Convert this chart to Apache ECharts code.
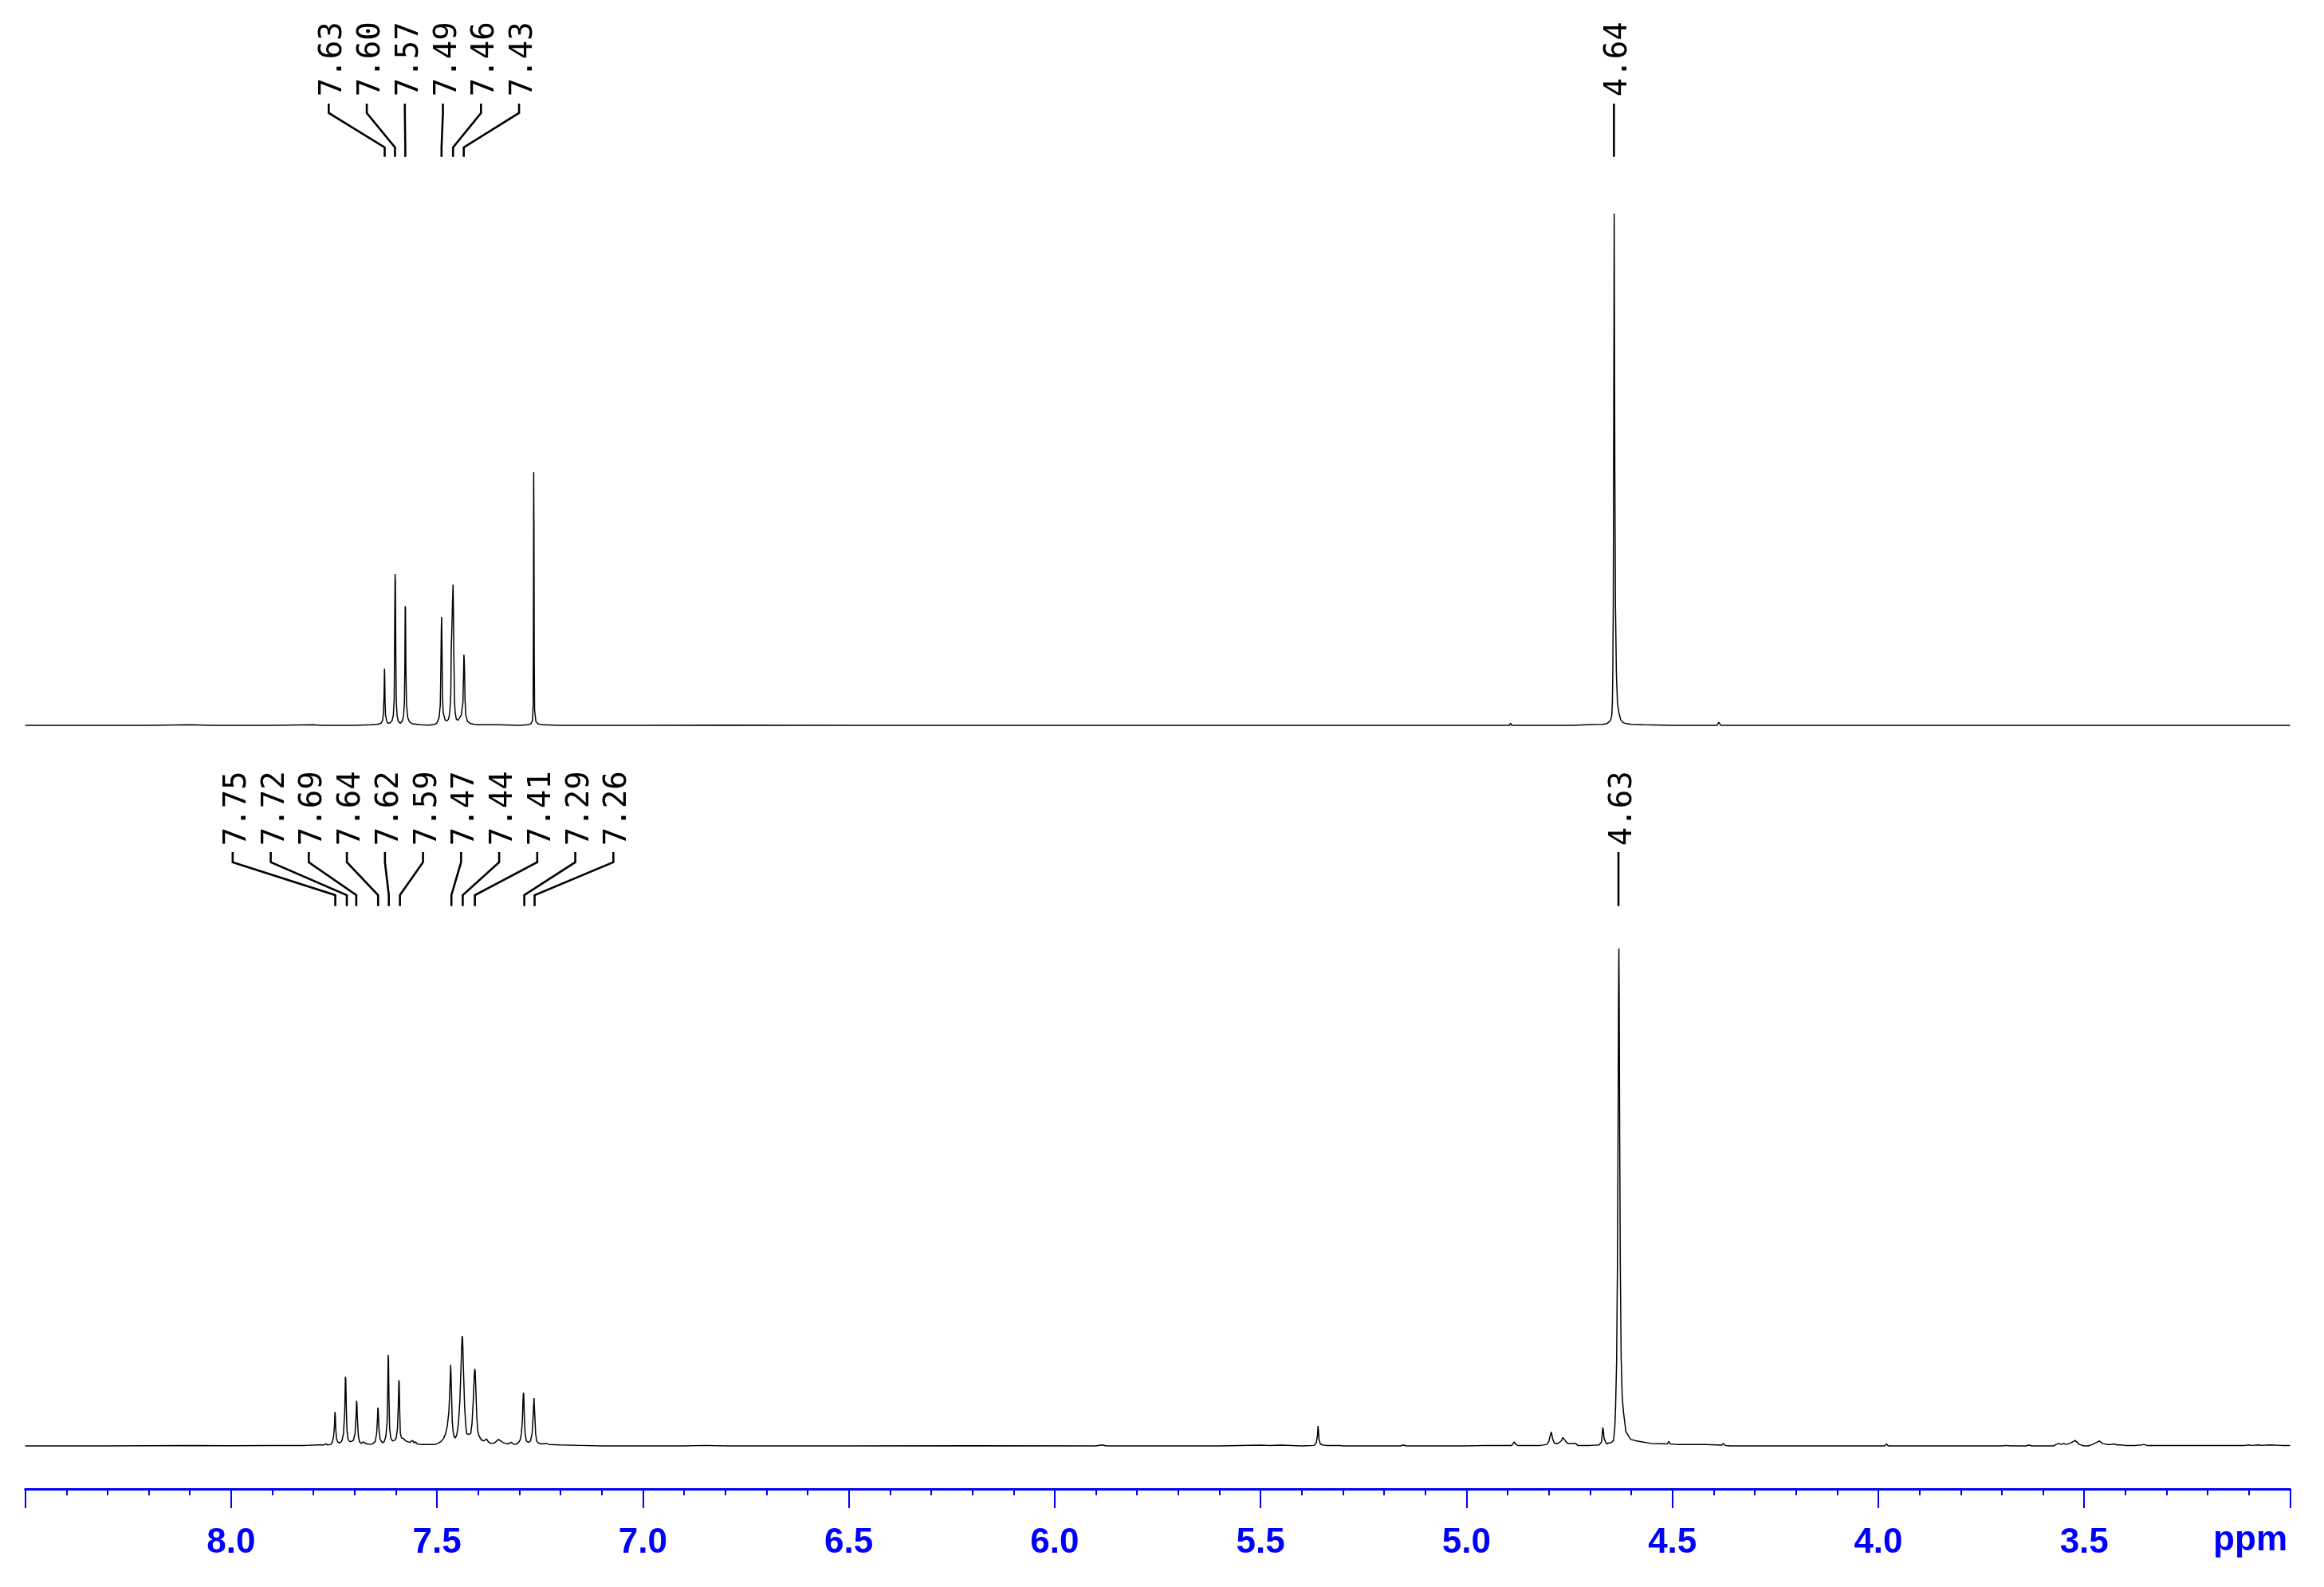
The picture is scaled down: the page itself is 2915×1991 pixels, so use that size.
<!DOCTYPE html>
<html>
<head>
<meta charset="utf-8">
<title>1H NMR spectra</title>
<script src="https://cdn.jsdelivr.net/npm/echarts@6.0.0/dist/echarts.min.js"></script>
<style>
  html, body { margin: 0; padding: 0; background: #fff; }
  #chart { width: 2915px; height: 1991px; }
</style>
</head>
<body>
<div id="chart"></div>
<script>
const ppmTicks = [8.0, 7.5, 7.0, 6.5, 6.0, 5.5, 5.0, 4.5, 4.0, 3.5]

const topPeakPpm = [7.627, 7.602, 7.577, 7.489, 7.461, 7.435]
const topPeakText = ['7.63', '7.60', '7.57', '7.49', '7.46', '7.43']
const topMainPpm = [4.642]
const topMainText = ['4.64']

const bottomPeakPpm = [7.747, 7.719, 7.696, 7.643, 7.617, 7.590, 7.465, 7.4375, 7.408, 7.288, 7.263]
const bottomPeakText = ['7.75', '7.72', '7.69', '7.64', '7.62', '7.59', '7.47', '7.44', '7.41', '7.29', '7.26']
const bottomMainPpm = [4.631]
const bottomMainText = ['4.63']

// [ppm, intensity], intensity relative to the tallest peak of each trace
const topSpectrum = [
  [8.50, 0], [8.20, 0], [8.10, 0.1], [8.05, 0], [7.90, 0], [7.80, 0.1], [7.78, 0], [7.70, 0], [7.66, 0.1], [7.645, 0.2],
  [7.636, 0.4], [7.632, 1.0], [7.630, 2.5], [7.6285, 6], [7.6275, 11.1], [7.627, 10.0], [7.6262, 5], [7.625, 2], [7.622, 0.8], [7.619, 0.4],
  [7.614, 0.5], [7.609, 0.9], [7.606, 2], [7.604, 5], [7.603, 15], [7.6018, 29.6], [7.6010, 28], [7.600, 14], [7.599, 5], [7.597, 2], [7.594, 0.8], [7.589, 0.4],
  [7.584, 0.9], [7.581, 2], [7.579, 5], [7.578, 12], [7.5772, 23.3], [7.5765, 22.8], [7.5755, 11], [7.574, 4], [7.571, 1.5], [7.567, 0.7], [7.560, 0.3], [7.54, 0.1], [7.52, 0.05], [7.505, 0.2],
  [7.500, 0.5], [7.495, 1.5], [7.492, 4], [7.4905, 12], [7.4895, 19], [7.4886, 21.2], [7.4878, 15], [7.4868, 6], [7.485, 2.5], [7.480, 1.0], [7.476, 0.9], [7.472, 1.2], [7.469, 2.5], [7.4665, 6],
  [7.4655, 14.5], [7.4635, 20], [7.4620, 25], [7.4610, 27.5], [7.4600, 22], [7.4590, 13], [7.4575, 5], [7.456, 2.5], [7.453, 1.2], [7.449, 1.0],
  [7.441, 2.0], [7.437, 4.5], [7.4355, 10], [7.4347, 13.8], [7.4340, 13.0], [7.4330, 10.5], [7.432, 5], [7.430, 2], [7.426, 0.8], [7.420, 0.4], [7.41, 0.2], [7.40, 0.1],
  [7.35, 0.1], [7.30, 0], [7.28, 0.1],
  [7.272, 0.3], [7.268, 1.0], [7.2665, 4], [7.2658, 20], [7.2652, 49.5], [7.2645, 38], [7.2638, 12], [7.263, 3], [7.260, 0.8], [7.255, 0.3], [7.245, 0.1],
  [7.20, 0], [7.00, 0], [6.80, 0.05], [6.50, 0], [6.00, 0], [5.50, 0], [5.20, 0], [4.92, 0],
  [4.896, 0], [4.893, 0.4], [4.890, 0],
  [4.74, 0], [4.70, 0.15], [4.67, 0.2], [4.66, 0.3], [4.655, 0.6], [4.650, 1.0],
  [4.6472, 2], [4.6458, 4.5], [4.6448, 10], [4.6436, 24], [4.6428, 50], [4.6419, 80], [4.6414, 100], [4.6407, 78], [4.6398, 50], [4.6384, 24], [4.6360, 10], [4.6335, 4.5], [4.630, 2.5], [4.626, 1.2], [4.621, 0.6], [4.615, 0.4], [4.60, 0.2], [4.57, 0.1], [4.50, 0],
  [4.392, 0], [4.387, 0.6], [4.383, 0],
  [4.00, 0], [3.50, 0], [3.00, 0],
]

const bottomSpectrum = [
  [8.50, 0], [8.30, 0], [8.10, 0.1], [8.00, 0.05], [7.90, 0.1], [7.82, 0.1], [7.79, 0.2], [7.775, 0.2], [7.770, 0.4], [7.765, 0.2], [7.758, 0.3], [7.754, 0.8],
  [7.751, 2], [7.749, 4], [7.7478, 6.8], [7.7470, 6.3], [7.746, 3.5], [7.744, 1.5], [7.741, 0.8], [7.736, 0.6],
  [7.731, 1.0], [7.727, 2.5], [7.724, 7], [7.7225, 13.9], [7.7215, 13.5], [7.720, 7], [7.7185, 3], [7.716, 1.3], [7.712, 0.9], [7.708, 0.9],
  [7.703, 1.1], [7.699, 2.5], [7.6965, 6], [7.6952, 9.1], [7.6945, 8.5], [7.693, 5], [7.691, 2], [7.688, 0.8], [7.684, 0.5], [7.680, 0.8], [7.677, 0.5], [7.670, 0.4], [7.66, 0.3], [7.655, 0.5],
  [7.650, 0.9], [7.6465, 2.5], [7.6445, 5.5], [7.6435, 7.7], [7.6428, 7.2], [7.641, 3.5], [7.638, 1.3], [7.632, 0.6],
  [7.628, 0.9], [7.624, 2], [7.621, 5], [7.6195, 12], [7.6185, 18.3], [7.6178, 17.5], [7.6165, 9], [7.615, 3.5], [7.612, 1.5], [7.608, 1.0], [7.603, 1.1],
  [7.599, 1.6], [7.596, 3.5], [7.594, 8], [7.5925, 13.2], [7.5918, 12.8], [7.5905, 7], [7.589, 2.5], [7.586, 1.6], [7.582, 1.5], [7.580, 1.7], [7.577, 1.1], [7.573, 0.9], [7.570, 1.2], [7.566, 0.7], [7.563, 0.6], [7.559, 1.1], [7.556, 0.6], [7.552, 0.8], [7.548, 0.4], [7.54, 0.3], [7.52, 0.3], [7.505, 0.3],
  [7.498, 0.5], [7.490, 0.9], [7.484, 1.5], [7.479, 2.5], [7.475, 4], [7.471, 7], [7.4685, 12], [7.4668, 16.3], [7.4660, 16.0], [7.4648, 11], [7.463, 5], [7.461, 3], [7.459, 2.0], [7.456, 1.6],
  [7.452, 2.2], [7.448, 4.5], [7.4445, 9], [7.442, 15], [7.440, 20], [7.4388, 22.1], [7.4378, 21.5], [7.436, 16], [7.433, 8], [7.430, 4], [7.428, 2.5], [7.424, 2.3], [7.421, 2.0],
  [7.418, 2.5], [7.415, 4.5], [7.412, 9], [7.4095, 14], [7.4083, 15.5], [7.4073, 15.0], [7.4055, 11], [7.4035, 6], [7.401, 3], [7.398, 2], [7.395, 1.7],
  [7.392, 1.2], [7.386, 1.0], [7.380, 1.4], [7.376, 0.9], [7.370, 0.5], [7.360, 0.6], [7.351, 1.3], [7.345, 1.0], [7.341, 0.75], [7.334, 0.5], [7.328, 0.4], [7.320, 0.75], [7.315, 0.4], [7.309, 0.3], [7.303, 0.6],
  [7.298, 1.2], [7.295, 2.5], [7.2925, 5.5], [7.2910, 9.5], [7.2902, 10.7], [7.2893, 10.3], [7.288, 6], [7.286, 2.5], [7.283, 1.0], [7.278, 0.7],
  [7.273, 1.0], [7.269, 2.5], [7.2665, 6], [7.2645, 9.6], [7.2635, 9.3], [7.2625, 6], [7.2605, 2.5], [7.258, 1.0], [7.254, 0.6], [7.247, 0.4], [7.234, 0.5], [7.228, 0.3], [7.20, 0.2], [7.15, 0.1],
  [7.10, 0], [6.90, 0], [6.85, 0.1], [6.80, 0], [6.50, 0], [6.20, 0.05], [5.90, 0], [5.885, 0.2], [5.875, 0], [5.60, 0], [5.50, 0.15], [5.48, 0.1], [5.45, 0.15], [5.40, 0],
  [5.370, 0.1], [5.365, 0.6], [5.362, 2], [5.3605, 4.0], [5.3595, 3.0], [5.358, 1.2], [5.355, 0.4], [5.350, 0.2], [5.340, 0.1], [5.316, 0.1], [5.313, 0.2], [5.309, 0.1], [5.30, 0],
  [5.16, 0], [5.153, 0.2], [5.147, 0], [5.00, 0], [4.95, 0.1], [4.890, 0.1], [4.884, 0.8], [4.880, 0.3], [4.876, 0.1], [4.82, 0.1],
  [4.805, 0.3], [4.800, 0.9], [4.797, 2.0], [4.794, 2.8], [4.791, 1.5], [4.787, 0.6], [4.781, 0.45], [4.776, 0.6], [4.770, 1.0], [4.766, 1.7], [4.763, 1.6], [4.759, 0.9], [4.754, 0.5], [4.745, 0.5], [4.735, 0.5], [4.730, 0.1], [4.700, 0.1],
  [4.678, 0.2], [4.672, 0.8], [4.669, 3.7], [4.6675, 3.0], [4.666, 1.5], [4.664, 1.2], [4.660, 0.4], [4.655, 0.6], [4.649, 0.64], [4.643, 1.1],
  [4.640, 3.5], [4.638, 7.8], [4.6355, 17], [4.6335, 36], [4.632, 62], [4.6308, 90], [4.6300, 100], [4.6292, 90], [4.628, 62], [4.6265, 36], [4.6245, 18], [4.622, 10], [4.619, 7], [4.617, 5.6],
  [4.613, 2.9], [4.606, 1.9], [4.601, 1.3], [4.587, 1.0], [4.573, 0.8], [4.552, 0.5], [4.512, 0.4], [4.509, 0.9], [4.505, 0.4], [4.490, 0.3], [4.457, 0.3], [4.42, 0.3],
  [4.380, 0.15], [4.376, 0.5], [4.372, 0.1], [4.36, 0], [4.10, 0], [3.985, 0], [3.980, 0.4], [3.976, 0], [3.70, 0], [3.690, 0.1], [3.68, 0], [3.64, 0], [3.634, 0.2], [3.628, 0],
  [3.575, 0], [3.568, 0.3], [3.562, 0.5], [3.556, 0.3], [3.550, 0.5], [3.545, 0.3], [3.535, 0.5], [3.522, 1.1], [3.512, 0.3], [3.500, 0], [3.490, 0],
  [3.480, 0.3], [3.470, 0.7], [3.463, 1.0], [3.456, 0.5], [3.445, 0.3], [3.435, 0.3], [3.429, 0.4], [3.420, 0.2], [3.410, 0.2], [3.400, 0.1], [3.375, 0.1], [3.360, 0.2], [3.355, 0.3], [3.348, 0.1],
  [3.20, 0.1], [3.11, 0.1], [3.100, 0.2], [3.095, 0.1], [3.075, 0.2], [3.07, 0.1], [3.05, 0.2], [3.02, 0.1], [3.00, 0.1],
]

const BLUE = '#0000ff'
const LABEL_GAP = 47.75
const TOP_LEADER = { textMid: 74.2, lineTop: 130, bend1: 141.7, bend2: 185, end: 196.7 }
const BOTTOM_LEADER = { textMid: 1014.2, lineTop: 1069, bend1: 1081.7, bend2: 1123, end: 1136.7 }

function leaderSeries(axisIndex, peaks, texts, lay) {
  return {
    type: 'custom',
    xAxisIndex: axisIndex,
    yAxisIndex: axisIndex,
    silent: true,
    clip: false,
    data: peaks.map(p => [p, 0]),
    renderItem(params, api) {
      const xs = peaks.map(p => api.coord([p, 0])[0])
      const mid = xs.reduce((a, b) => a + b, 0) / xs.length
      const i = params.dataIndex
      const lx = mid + (i - (peaks.length - 1) / 2) * LABEL_GAP
      const px = xs[i]
      return {
        type: 'group',
        children: [
          {
            type: 'polyline',
            shape: { points: [[lx, lay.lineTop], [lx, lay.bend1], [px, lay.bend2], [px, lay.end]] },
            style: { stroke: '#000', lineWidth: 2.6, fill: null },
          },
          {
            type: 'text',
            x: lx + 6,
            y: lay.textMid,
            rotation: Math.PI / 2,
            style: {
              text: texts[i],
              font: '39px "DejaVu Sans Mono"',
              fill: '#000',
              align: 'center',
              verticalAlign: 'middle',
            },
          },
        ],
      }
    },
  }
}

function spectrumSeries(axisIndex, data) {
  return {
    type: 'line',
    xAxisIndex: axisIndex,
    yAxisIndex: axisIndex,
    data,
    showSymbol: false,
    symbol: 'none',
    clip: false,
    sampling: undefined,
    lineStyle: { color: '#000', width: 1.5 },
    silent: true,
  }
}

const chart = echarts.init(document.getElementById('chart'), null, { renderer: 'canvas' })

chart.setOption({
  backgroundColor: '#fff',
  animation: false,
  grid: [
    { left: 31.6, right: 42.5, top: 268, height: 654.84 },
    { left: 31.6, right: 42.5, top: 1190, height: 678 },
  ],
  xAxis: [
    { type: 'value', gridIndex: 0, min: 3.0, max: 8.5, inverse: true, show: false },
    {
      type: 'value',
      gridIndex: 1,
      min: 3.0,
      max: 8.5,
      interval: 0.5,
      inverse: true,
      axisLine: { show: true, onZero: false, lineStyle: { color: BLUE, width: 3 } },
      axisTick: { show: true, length: 24, lineStyle: { color: BLUE, width: 2 } },
      minorTick: { show: true, splitNumber: 5, length: 8, lineStyle: { color: BLUE, width: 2 } },
      splitLine: { show: false },
      axisLabel: {
        color: BLUE,
        fontFamily: 'Liberation Sans',
        fontWeight: 'bold',
        fontSize: 44,
        margin: 46,
        formatter: v => (ppmTicks.includes(v) ? v.toFixed(1) : ''),
      },
    },
  ],
  yAxis: [
    { type: 'value', gridIndex: 0, min: -2, max: 100, show: false },
    { type: 'value', gridIndex: 1, min: -8.654, max: 100, show: false },
  ],
  graphic: [
    {
      type: 'text',
      x: 2869,
      y: 1933,
      style: {
        text: 'ppm',
        font: 'bold 44px "Liberation Sans"',
        fill: BLUE,
        align: 'right',
        verticalAlign: 'middle',
      },
    },
  ],
  series: [
    spectrumSeries(0, topSpectrum),
    spectrumSeries(1, bottomSpectrum),
    leaderSeries(0, topPeakPpm, topPeakText, TOP_LEADER),
    leaderSeries(0, topMainPpm, topMainText, TOP_LEADER),
    leaderSeries(1, bottomPeakPpm, bottomPeakText, BOTTOM_LEADER),
    leaderSeries(1, bottomMainPpm, bottomMainText, BOTTOM_LEADER),
  ],
})
</script>
</body>
</html>
